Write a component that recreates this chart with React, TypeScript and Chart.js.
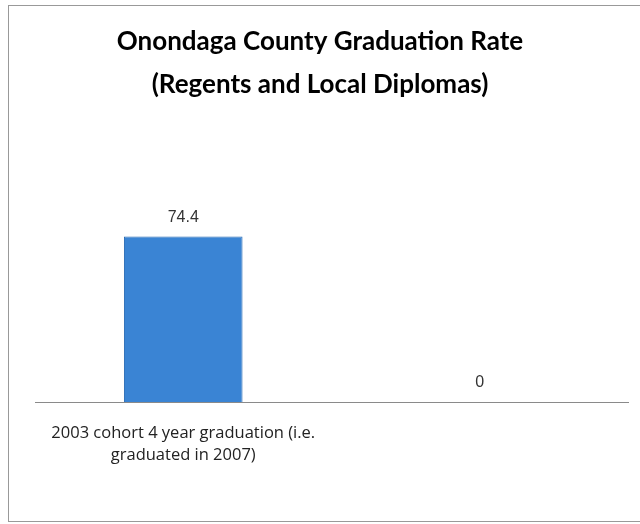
import React, { useEffect, useRef } from "react";
import { Chart, registerables } from "chart.js";

Chart.register(...registerables);

const categories: (string | string[])[] = [
  ["2003 cohort 4 year graduation (i.e.", "graduated in 2007)"],
  "",
];
const values: number[] = [74.4, 0];
const titleLines: string[] = [
  "Onondaga County Graduation Rate",
  "(Regents and Local Diplomas)",
];

const valueLabels = {
  id: "valueLabels",
  afterDatasetsDraw(chart: any) {
    const ctx = chart.ctx;
    const meta = chart.getDatasetMeta(0);
    ctx.save();
    ctx.font = "16px 'Liberation Sans', Arial, sans-serif";
    ctx.fillStyle = "#333";
    ctx.textAlign = "center";
    ctx.textBaseline = "middle";
    meta.data.forEach((bar: any, i: number) => {
      ctx.fillText(String(values[i]), bar.x, bar.y - 19);
    });
    ctx.restore();
  },
};

export default function App() {
  const ref = useRef<HTMLCanvasElement | null>(null);
  useEffect(() => {
    if (!ref.current) return;
    const chart = new Chart(ref.current, {
      type: "bar",
      data: {
        labels: categories,
        datasets: [
          {
            data: values,
            backgroundColor: "#3a84d4",
            borderColor: "#2b6cb5",
            borderWidth: 1,
            barPercentage: 0.4,
            categoryPercentage: 1,
          },
        ],
      },
      options: {
        animation: false,
        responsive: false,
        layout: { padding: { left: 12, right: 12, top: 0, bottom: 0 } },
        plugins: {
          legend: { display: false },
          tooltip: { enabled: false },
          title: {
            display: true,
            text: titleLines,
            color: "#000",
            font: { family: "Lato", size: 26, weight: "bold", lineHeight: 1.654 },
            padding: { top: 20.5, bottom: 117.5 },
          },
        },
        scales: {
          y: {
            display: true,
            min: 0,
            max: 80,
            grid: { display: false, drawTicks: false },
            border: { display: false },
            ticks: { display: false },
            afterFit(scale: any) {
              scale.width = 23;
            },
          },
          x: {
            grid: { display: false, drawTicks: false },
            border: { display: true, color: "#8a8a8a", width: 1 },
            ticks: {
              color: "#222",
              font: { family: "'Open Sans', sans-serif", size: 16.5, lineHeight: 1.35 },
              padding: 20,
              maxRotation: 0,
              autoSkip: false,
            },
            afterFit(scale: any) {
              scale.height = 122;
            },
          },
        },
      },
      plugins: [valueLabels],
    });
    return () => chart.destroy();
  }, []);
  return (
    <div style={{ position: "absolute", left: 0, top: 0, width: 640, height: 524, overflow: "hidden", background: "#fff" }}>
      <div style={{ position: "absolute", left: 8, top: 5, width: 700, height: 515, border: "1px solid #999" }} />
      <canvas ref={ref} width={640} height={524} style={{ position: "absolute", left: 0, top: 0 }} />
    </div>
  );
}
